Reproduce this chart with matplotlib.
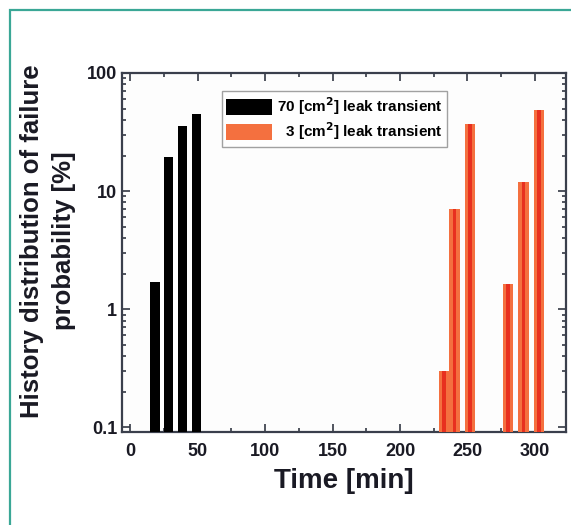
import matplotlib.pyplot as plt
from matplotlib.patches import Rectangle
from matplotlib.ticker import FixedLocator, FixedFormatter, MultipleLocator, LogLocator, NullFormatter

plt.rcParams["font.family"] = ["Liberation Sans", "DejaVu Sans"]
plt.rcParams["font.weight"] = "bold"

# 70 cm^2 leak transient
large_time = [18.5, 28.5, 39, 49]
large_prob = [1.68, 19.6, 35.5, 45.2]

# 3 cm^2 leak transient
small_time = [232.5, 240.5, 252, 280, 291.5, 303]
small_prob = [0.29, 7.06, 37.2, 1.61, 11.9, 48.2]

y_ticks = [0.1, 1, 10, 100]
y_labels = ["0.1", "1", "10", "100"]

fig = plt.figure(figsize=(5.71, 5.25), dpi=100)
fig.patch.set_facecolor("white")

# teal frame round the figure
fig.patches.append(Rectangle((10 / 571, -0.05), 1.1, 1 - 10 / 525 + 0.05,
                             transform=fig.transFigure, fill=False,
                             edgecolor="#3aa796", linewidth=1.6))

ax = fig.add_axes([122 / 571, 1 - 432 / 525, (566 - 122) / 571, (432 - 73) / 525])
ax.set_facecolor("#fdfdfd")

ax.bar(large_time, large_prob, width=6.8, color="black", label="70 [cm$^{2}$] leak transient",
       bottom=0.01, zorder=3)
ax.bar(small_time, small_prob, width=7.8, color="#f4703f", label="  3 [cm$^{2}$] leak transient",
       bottom=0.01, zorder=3)
ax.bar(small_time, small_prob, width=2.6, color="#e8301f", bottom=0.01, zorder=4)

ax.set_yscale("log")
ax.set_ylim(0.091, 100)
ax.set_xlim(-6, 323)

ax.yaxis.set_major_locator(FixedLocator(y_ticks))
ax.yaxis.set_major_formatter(FixedFormatter(y_labels))
ax.yaxis.set_minor_locator(LogLocator(base=10, subs=range(2, 10)))
ax.yaxis.set_minor_formatter(NullFormatter())
ax.xaxis.set_major_locator(MultipleLocator(50))
ax.xaxis.set_minor_locator(MultipleLocator(25))

ax.tick_params(which="both", direction="in", top=True, right=True, colors="#333844",
               labelcolor="#1a1a24", labelsize=13, width=1.2)
ax.tick_params(which="major", length=6)
ax.tick_params(which="minor", length=3)
ax.tick_params(axis="x", pad=8)
for lab in ax.get_xticklabels() + ax.get_yticklabels():
    lab.set_fontweight("bold")

for s in ax.spines.values():
    s.set_linewidth(1.6)
    s.set_color("#3a3f4c")

ax.set_xlabel("Time [min]", fontsize=20, fontweight="bold", color="#1a1a24", labelpad=6)
ax.set_ylabel("History distribution of failure\nprobability [%]", fontsize=18.5,
              fontweight="bold", color="#1a1a24", linespacing=1.45)
ax.yaxis.set_label_coords(-0.167, 0.532)
ax.yaxis.label.set_verticalalignment("center")

leg = ax.legend(loc="upper left", bbox_to_anchor=(0.225, 0.95), fontsize=11,
                frameon=True, fancybox=False, edgecolor="#8a8a8a", handlelength=3.0,
                handleheight=1.2, handletextpad=0.3, borderpad=0.3, labelspacing=0.2,
                borderaxespad=0)
leg.get_frame().set_linewidth(1.0)
for t in leg.get_texts():
    t.set_fontweight("bold")

fig.savefig("out.png", dpi=100)
